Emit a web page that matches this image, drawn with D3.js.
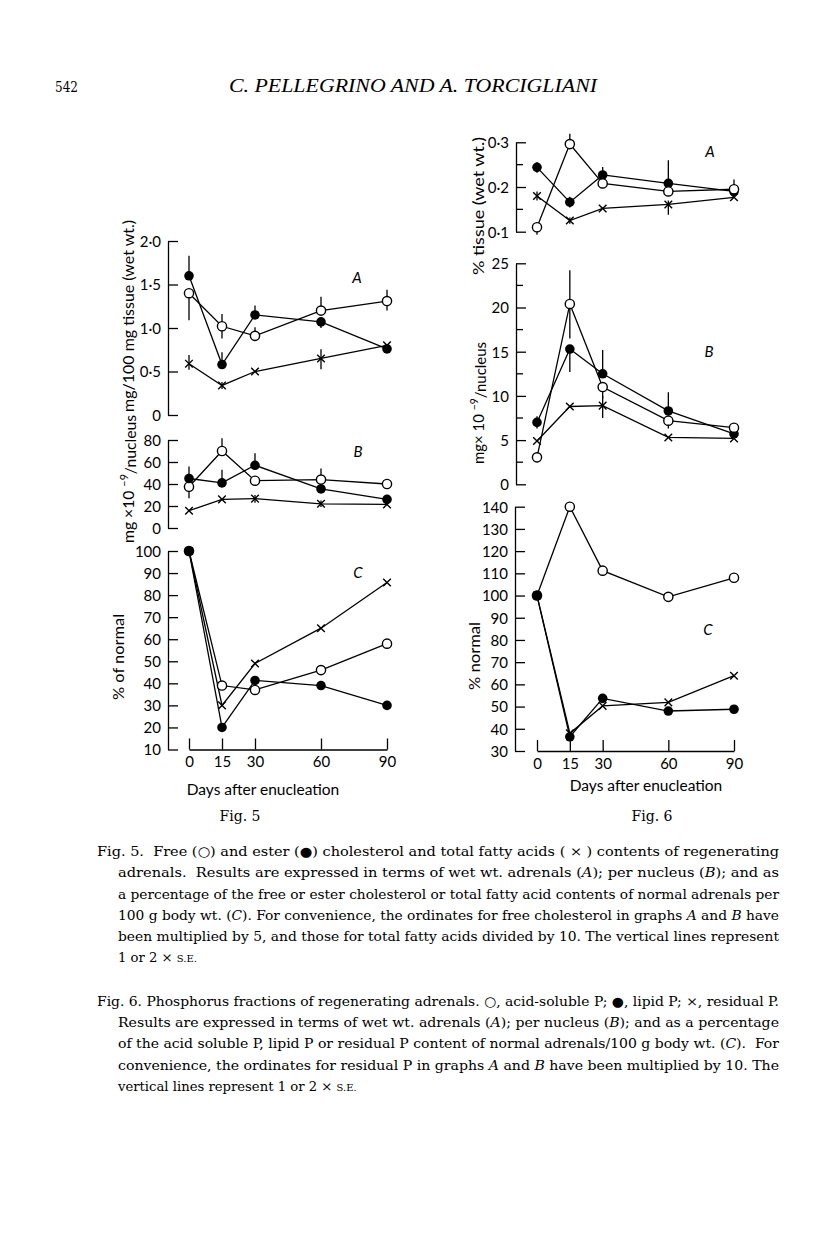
<!DOCTYPE html>
<html>
<head>
<meta charset="utf-8">
<script src="https://cdn.jsdelivr.net/npm/d3@7"></script>
<style>
  html, body { margin: 0; padding: 0; background: #fff; }
  svg { display: block; }
  .tick text { font-family: Lato, "Open Sans", sans-serif; font-size: 15px; fill: #000; }
  .tick line, .domain { stroke: #000; stroke-width: 1.3; }
</style>
</head>
<body>
<svg id="chart" width="816" height="1258"></svg>
<script>
// ---------------- DATA ----------------
const days = [0, 15, 30, 60, 90];

// Fig. 5 A  (mg/100 mg tissue)
const f5A_free  = [1.40, 1.02, 0.91, 1.20, 1.31];
const f5A_ester = [1.60, 0.58, 1.15, 1.07, 0.76];
const f5A_fatty = [0.59, 0.34, 0.50, 0.65, 0.80];
const f5A_free_err  = [[1.09, 1.40], [0.88, 1.16], [0.91, 1.01], [1.20, 1.36], [1.20, 1.44]];
const f5A_ester_err = [[1.60, 1.83], [0.58, 0.72], [1.15, 1.26], [1.00, 1.07], null];
const f5A_fatty_err = [[0.52, 0.69], [0.30, 0.38], null, [0.525, 0.755], null];

// Fig. 5 B  (mg x 10^-9 / nucleus)
const f5B_free  = [37.5, 70, 43, 44, 40];
const f5B_ester = [45, 41, 57, 35.5, 26];
const f5B_fatty = [15.7, 26, 26.7, 22, 21.5];
const f5B_free_err  = [[27, 40], [70, 81.5], null, [44, 54], [36, 44]];
const f5B_ester_err = [[45, 56], [41, 53], [57, 68], null, null];
const f5B_fatty_err = [null, null, [23, 30], [19, 25], null];

// Fig. 5 C  (% of normal)
const f5C_free  = [100, 39, 37, 46, 58];
const f5C_ester = [100, 20, 41.3, 39, 30];
const f5C_fatty = [100, 30, 49, 65, 85.7];

// Fig. 6 A  (% tissue)
const f6A_acid     = [0.110, 0.296, 0.208, 0.190, 0.195];
const f6A_lipid    = [0.244, 0.166, 0.227, 0.208, 0.190];
const f6A_residual = [0.180, 0.125, 0.152, 0.161, 0.177];
const f6A_acid_err     = [[0.093, 0.110], [0.296, 0.319], [0.208, 0.235], null, [0.195, 0.217]];
const f6A_lipid_err    = [[0.232, 0.256], [0.154, 0.178], [0.227, 0.245], [0.208, 0.260], null];
const f6A_residual_err = [[0.170, 0.190], [0.118, 0.132], null, [0.138, 0.170], null];

// Fig. 6 B  (mg x 10^-9 / nucleus)
const f6B_acid     = [3.05, 20.4, 11.0, 7.2, 6.4];
const f6B_lipid    = [7.0, 15.3, 12.5, 8.3, 5.7];
const f6B_residual = [4.9, 8.8, 8.9, 5.3, 5.2];
const f6B_acid_err     = [null, [16.5, 24.2], [9.7, 11.0], [6.3, 7.2], null];
const f6B_lipid_err    = [[6.3, 7.7], [12.7, 15.3], [12.5, 15.2], [8.3, 10.4], null];
const f6B_residual_err = [null, null, [7.5, 10.0], null, null];

// Fig. 6 C  (% normal)
const f6C_acid     = [100, 140, 111.2, 99.4, 108];
const f6C_lipid    = [100, 36.4, 53.7, 48, 48.8];
const f6C_residual = [100, 38, 50.3, 51.9, 63.9];

// Tick labels
const f5A_ticks = [0, 0.5, 1.0, 1.5, 2.0];
const f5A_tickLabels = ["0", "0·5", "1·0", "1·5", "2·0"];
const f5B_ticks = [0, 20, 40, 60, 80];
const f5C_ticks = [10, 20, 30, 40, 50, 60, 70, 80, 90, 100];
const f6A_ticks = [0.1, 0.2, 0.3];
const f6A_tickLabels = ["0·1", "0·2", "0·3"];
const f6A_minor = [0.15, 0.25];
const f6B_ticks = [0, 5, 10, 15, 20, 25];
const f6B_minor = [2.5, 7.5, 12.5, 17.5, 22.5];
const f6C_ticks = [30, 40, 50, 60, 70, 80, 90, 100, 110, 120, 130, 140];
const dayTicks = [0, 15, 30, 60, 90];

// ---------------- DRAWING ----------------
const svg = d3.select("#chart");
const SANS = "Lato, 'Open Sans', sans-serif";
const SERIF = "'DejaVu Serif', 'Liberation Serif', serif";
const SERIF2 = "'Liberation Serif', 'DejaVu Serif', serif";

const x5 = d3.scaleLinear().domain([0, 90]).range([189, 387]);
const x6 = d3.scaleLinear().domain([0, 90]).range([537, 734]);

function drawYAxis(axisX, y, ticks, labels, minor) {
  const ax = d3.axisLeft(y).tickValues(ticks).tickSizeInner(-10).tickSizeOuter(0).tickPadding(7)
    .tickFormat((d, i) => labels ? labels[i] : String(d));
  const g = svg.append("g").attr("transform", `translate(${axisX},0)`).call(ax);
  g.selectAll(".tick text").attr("dy", "0.36em");
  if (minor) {
    g.selectAll(".minor").data(minor).enter().append("line")
      .attr("x1", 0).attr("x2", 7).attr("y1", d => y(d)).attr("y2", d => y(d))
      .attr("stroke", "#000").attr("stroke-width", 1.3);
  }
}

function drawXAxis(x, yPos) {
  const ax = d3.axisBottom(x).tickValues(dayTicks).tickSizeInner(-11).tickSizeOuter(0).tickPadding(7)
    .tickFormat(d => String(d));
  svg.append("g").attr("transform", `translate(0,${yPos})`).call(ax);
}

function marker(g, type, cx, cy) {
  if (type === "open") {
    g.append("circle").attr("cx", cx).attr("cy", cy).attr("r", 4.6)
      .attr("fill", "#fff").attr("stroke", "#000").attr("stroke-width", 1.4);
  } else if (type === "filled") {
    g.append("circle").attr("cx", cx).attr("cy", cy).attr("r", 4.8).attr("fill", "#000");
  } else {
    const s = 3.8;
    g.append("path").attr("d", `M${cx - s},${cy - s}L${cx + s},${cy + s}M${cx - s},${cy + s}L${cx + s},${cy - s}`)
      .attr("stroke", "#000").attr("stroke-width", 1.4).attr("fill", "none");
  }
}

function drawSeries(x, y, values, type, errs) {
  const pts = days.map((d, i) => ({ d, v: values[i], e: errs ? errs[i] : null }));
  const line = d3.line().x(p => x(p.d)).y(p => y(p.v));
  svg.append("path").datum(pts).attr("d", line)
    .attr("fill", "none").attr("stroke", "#000").attr("stroke-width", 1.3);
  const g = svg.append("g");
  pts.forEach(p => {
    if (p.e) {
      g.append("line").attr("x1", x(p.d)).attr("x2", x(p.d))
        .attr("y1", y(p.e[0])).attr("y2", y(p.e[1]))
        .attr("stroke", "#000").attr("stroke-width", 1.3);
    }
  });
  return () => pts.forEach(p => marker(svg, type, x(p.d), y(p.v)));
}

function panel(cfg) {
  drawYAxis(cfg.axisX, cfg.y, cfg.ticks, cfg.labels, cfg.minor);
  const markerFns = cfg.series.map(s => drawSeries(cfg.x, cfg.y, s.values, s.type, s.errs));
  markerFns.forEach(f => f());
  svg.append("text").attr("x", cfg.letter[1]).attr("y", cfg.letter[2])
    .attr("font-family", SANS).attr("font-style", "italic").attr("font-size", 15)
    .attr("text-anchor", "middle").attr("dy", "0.36em").text(cfg.letter[0]);
}

// Fig 5
const y5A = d3.scaleLinear().domain([0, 2]).range([415, 241]);
const y5B = d3.scaleLinear().domain([0, 80]).range([528, 440]);
const y5C = d3.scaleLinear().domain([10, 100]).range([749.5, 551]);

panel({ axisX: 168, x: x5, y: y5A, ticks: f5A_ticks, labels: f5A_tickLabels, letter: ["A", 357, 278],
  series: [
    { values: f5A_fatty, type: "cross", errs: f5A_fatty_err },
    { values: f5A_free, type: "open", errs: f5A_free_err },
    { values: f5A_ester, type: "filled", errs: f5A_ester_err }] });
panel({ axisX: 168, x: x5, y: y5B, ticks: f5B_ticks, letter: ["B", 358, 452],
  series: [
    { values: f5B_fatty, type: "cross", errs: f5B_fatty_err },
    { values: f5B_free, type: "open", errs: f5B_free_err },
    { values: f5B_ester, type: "filled", errs: f5B_ester_err }] });
panel({ axisX: 168, x: x5, y: y5C, ticks: f5C_ticks, letter: ["C", 358, 573],
  series: [
    { values: f5C_free, type: "open" },
    { values: f5C_ester, type: "filled" },
    { values: f5C_fatty, type: "cross" }] });
drawXAxis(x5, 749.5);

// Fig 6
const y6A = d3.scaleLinear().domain([0.1, 0.3]).range([231.7, 142.3]);
const y6B = d3.scaleLinear().domain([0, 25]).range([484.3, 263.3]);
const y6C = d3.scaleLinear().domain([30, 140]).range([751, 506.7]);

panel({ axisX: 516, x: x6, y: y6A, ticks: f6A_ticks, labels: f6A_tickLabels, minor: f6A_minor, letter: ["A", 710, 152],
  series: [
    { values: f6A_residual, type: "cross", errs: f6A_residual_err },
    { values: f6A_lipid, type: "filled", errs: f6A_lipid_err },
    { values: f6A_acid, type: "open", errs: f6A_acid_err }] });
panel({ axisX: 516, x: x6, y: y6B, ticks: f6B_ticks, minor: f6B_minor, letter: ["B", 709, 352],
  series: [
    { values: f6B_residual, type: "cross", errs: f6B_residual_err },
    { values: f6B_lipid, type: "filled", errs: f6B_lipid_err },
    { values: f6B_acid, type: "open", errs: f6B_acid_err }] });
panel({ axisX: 515, x: x6, y: y6C, ticks: f6C_ticks, letter: ["C", 708, 630],
  series: [
    { values: f6C_acid, type: "open" },
    { values: f6C_lipid, type: "filled" },
    { values: f6C_residual, type: "cross" }] });
drawXAxis(x6, 751);

// Axis titles (rotated)
function vText(x, y, segs, len) {
  const t = svg.append("text").attr("transform", `translate(${x},${y}) rotate(-90)`)
    .attr("font-family", SANS).attr("font-size", 16).attr("text-anchor", "middle").attr("dy", "0.36em");
  segs.forEach(s => {
    const ts = t.append("tspan").text(s[0]);
    if (s[1] === "sup") ts.attr("font-size", 11).attr("dy", "-0.5em");
    if (s[1] === "down") ts.attr("dy", "0.5em");
  });
  if (len) t.attr("textLength", len).attr("lengthAdjust", "spacingAndGlyphs");
}
vText(128, 316, [["mg/100 mg tissue (wet wt.)"]], 192);
vText(128, 479, [["mg ×10 "], ["−9", "sup"], ["/nucleus", "down"]], 128);
vText(118, 657, [["% of normal"]], 86);
vText(478, 206, [["% tissue (wet wt.)"]], 138);
vText(478, 403, [["mg× 10 "], ["−9", "sup"], ["/nucleus", "down"]], 122);
vText(474, 656, [["% normal"]], 68);

// X axis titles
svg.append("text").attr("x", 263).attr("y", 789).attr("dy", "0.36em").attr("text-anchor", "middle")
  .attr("font-family", SANS).attr("font-size", 15.5).text("Days after enucleation");
svg.append("text").attr("x", 646).attr("y", 785).attr("dy", "0.36em").attr("text-anchor", "middle")
  .attr("font-family", SANS).attr("font-size", 15.5).text("Days after enucleation");

// Figure labels
svg.append("text").attr("x", 240).attr("y", 816).attr("dy", "0.36em").attr("text-anchor", "middle")
  .attr("font-family", SERIF).attr("font-size", 14).text("Fig. 5");
svg.append("text").attr("x", 652).attr("y", 816).attr("dy", "0.36em").attr("text-anchor", "middle")
  .attr("font-family", SERIF).attr("font-size", 14).text("Fig. 6");

// Header
svg.append("text").attr("x", 55).attr("y", 92).attr("font-family", SERIF).attr("font-size", 15)
  .attr("textLength", 23).attr("lengthAdjust", "spacingAndGlyphs").text("542");
svg.append("text").attr("x", 229).attr("y", 92).attr("font-family", SERIF2).attr("font-size", 18)
  .attr("font-style", "italic").attr("textLength", 368).attr("lengthAdjust", "spacingAndGlyphs")
  .text("C. PELLEGRINO AND A. TORCIGLIANI");

// Captions
const caption5 = [
  [97, 851, true, [["Fig. 5.  Free (○) and ester (●) cholesterol and total fatty acids ( × ) contents of regenerating"]]],
  [118, 872, true, [["adrenals.  Results are expressed in terms of wet wt. adrenals ("], ["A", "i"], ["); per nucleus ("], ["B", "i"], ["); and as"]]],
  [118, 894, true, [["a percentage of the free or ester cholesterol or total fatty acid contents of normal adrenals per"]]],
  [118, 915, true, [["100 g body wt. ("], ["C", "i"], ["). For convenience, the ordinates for free cholesterol in graphs "], ["A", "i"], [" and "], ["B", "i"], [" have"]]],
  [118, 936, true, [["been multiplied by 5, and those for total fatty acids divided by 10. The vertical lines represent"]]],
  [118, 957, false, [["1 or 2 × "], ["S.E.", "sc"]]]
];
const caption6 = [
  [97, 1001, true, [["Fig. 6. Phosphorus fractions of regenerating adrenals. ○, acid-soluble P; ●, lipid P; ×, residual P."]]],
  [118, 1022, true, [["Results are expressed in terms of wet wt. adrenals ("], ["A", "i"], ["); per nucleus ("], ["B", "i"], ["); and as a percentage"]]],
  [118, 1043, true, [["of the acid soluble P, lipid P or residual P content of normal adrenals/100 g body wt. ("], ["C", "i"], [").  For"]]],
  [118, 1065, true, [["convenience, the ordinates for residual P in graphs "], ["A", "i"], [" and "], ["B", "i"], [" have been multiplied by 10. The"]]],
  [118, 1086, false, [["vertical lines represent 1 or 2 × "], ["S.E.", "sc"]]]
];
function captionLines(lines) {
  lines.forEach(([x, y, just, segs]) => {
    const t = svg.append("text").attr("x", x).attr("y", y).attr("dy", "0.35em")
      .attr("font-family", SERIF).attr("font-size", 13.2).attr("xml:space", "preserve");
    segs.forEach(s => {
      const ts = t.append("tspan").text(s[0]);
      if (s[1] === "i") ts.attr("font-style", "italic");
      if (s[1] === "sc") ts.attr("font-size", 10);
    });
    if (just) t.attr("textLength", 779 - x).attr("lengthAdjust", "spacingAndGlyphs");
  });
}
captionLines(caption5);
captionLines(caption6);
</script>
</body>
</html>
